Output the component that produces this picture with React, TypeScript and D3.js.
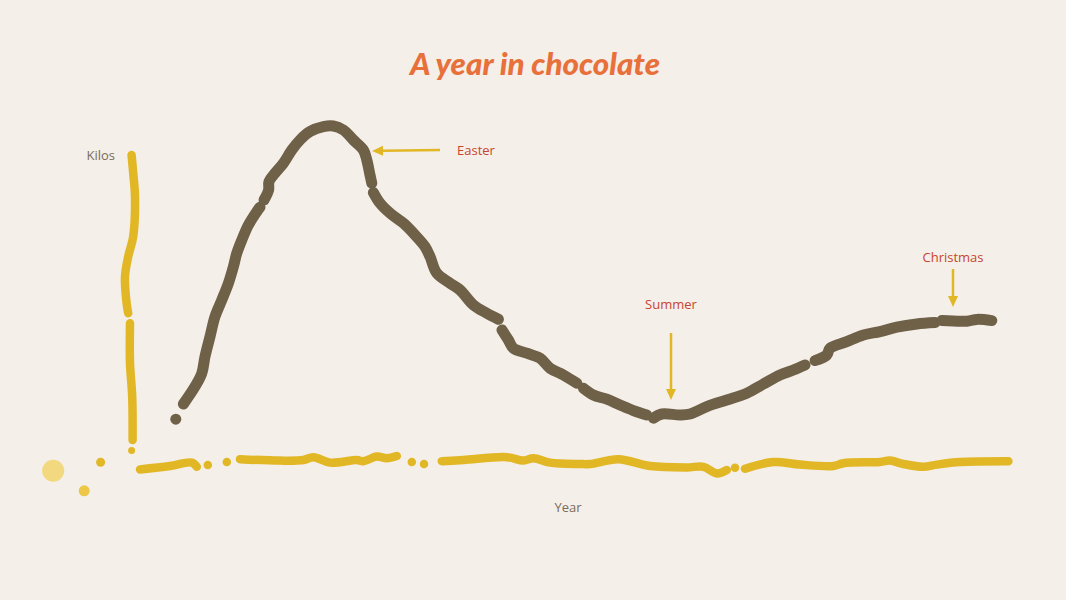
import React, { useEffect } from "react";
import * as d3 from "d3";

type P = [number, number];

// x: position along the year (arbitrary units), y: kilos (arbitrary units)
const chocolateSegments: P[][] = [
  [[17.9, 22.9]],
  [[21.7, 30.5], [27.5, 39.2], [30.9, 45.9], [32.5, 54.2], [35, 64.2], [37.5, 74.2], [40.9, 82.5], [44.2, 90.9], [46.7, 99.2], [48.4, 105.9], [50.9, 112.5], [54.2, 120], [58.4, 126.7], [60, 128.9]],
  [[62, 132.5], [64.3, 137.5], [64.5, 141.7], [67.5, 145.9], [71.7, 150.9], [75.9, 157.5], [80, 162.5], [85, 166.7], [91.7, 169.2], [96.7, 169.5], [101.7, 167.5], [106.7, 162.5], [111.7, 157.5], [113.4, 152.5], [115, 145], [115.9, 140.9]],
  [[116.7, 136.2], [120, 130.9], [125, 125.9], [131.7, 120.9], [136.7, 115.9], [142.5, 109.2], [145, 104.2], [148.4, 95.9], [155, 90.9], [160, 87.5], [166.7, 80], [173.4, 75.9], [179.2, 72.9]],
  [[181, 67.5], [184.2, 62.5], [186.7, 58.4], [193.4, 55.9], [200, 53.4], [205, 48.4], [211.7, 45], [218.4, 40.9]],
  [[221.7, 38.4], [226.7, 35], [233.4, 32.9], [240, 30], [246.7, 27.2], [253.4, 25]],
  [[256.7, 23.4], [260.9, 25.5], [270, 25], [275, 25.5], [283.4, 29.2], [293.4, 32.5], [303.4, 35.9], [311.7, 40.5], [320, 45], [326.7, 47.5], [332.5, 50]],
  [[337.5, 52.2], [343.4, 55], [345, 58.4], [353.4, 61.7], [361.7, 65], [370, 66.7], [378.4, 68.9], [388.4, 70.5], [397.5, 71.2]],
  [[400.9, 72.2], [413.4, 71.9], [418.4, 72.8], [425.9, 72.2]],
];

const yAxisSegments: P[][] = [
  [[-4.2, 155], [-3.4, 145.9], [-2.5, 134.2], [-3.4, 114.2], [-5.9, 104.2], [-7.5, 94.2], [-6.7, 80.9], [-5.9, 75.9]],
  [[-5, 70.9], [-5, 50.9], [-3.9, 34.2], [-3.7, 12.5]],
  [[-4.2, 7.2]],
];

const xAxisSegments: P[][] = [
  [[0, -2.2], [15, -0.5], [25.9, 1.2], [28.4, -0.9]],
  [[33.9, 0]],
  [[43.4, 1.5]],
  [[50, 2.9], [70, 2.2], [81.7, 2.5], [86.7, 3.9], [95, 1.2], [108.4, 2.5], [111.7, 1.9], [118.4, 4.2], [123.4, 3.4], [128.4, 4.5]],
  [[135.9, 1.5]],
  [[142, 0.5]],
  [[150.9, 1.9], [161.7, 2.5], [183.4, 3.9], [191.7, 2.2], [196.7, 3.4], [205, 1.2], [220, 0.5], [225, 0.5], [239.2, 2.9], [255, -0.5], [273.4, -1.2], [281.7, -0.9], [288.4, -4.2], [293.4, -2.5]],
  [[297.5, -1.4]],
  [[302.5, -1.9], [316.7, 1.5], [330, 0.2], [346.7, -0.5], [351.7, 0.9], [370, 1.5], [375, 2.2], [381.7, 0.5], [391.7, -0.9], [398.4, 0.2], [410, 1.5], [434.2, 1.9]],
];

const drops: { x: number; y: number; r: number; c: string }[] = [
  { x: -43.4, y: -2.9, r: 11, c: "#f2d97f" },
  { x: -27.9, y: -12.9, r: 5.5, c: "#ecc748" },
  { x: -19.7, y: 1.4, r: 4.5, c: "#e2b728" },
];

const annotations = [
  { label: "Easter", lx: 158.5, ly: 155.2, from: [150, 157.5] as P, to: [116, 157] as P, anchor: "start" },
  { label: "Summer", lx: 265.5, ly: 78, from: [265.5, 66] as P, to: [265.5, 32.5] as P, anchor: "middle" },
  { label: "Christmas", lx: 406.5, ly: 101.5, from: [406.5, 98] as P, to: [406.5, 79] as P, anchor: "middle" },
];

const W = 1066;
const H = 600;
const BG = "#f4efe8";
const BROWN = "#6f6048";
const YELLOW = "#e2b726";
const RED = "#c8452d";
const GREY = "#7b6c5a";

const x = d3.scaleLinear().domain([0, 440]).range([140, 1020]);
const y = d3.scaleLinear().domain([0, 170]).range([465, 125]);

const line = d3
  .line<P>()
  .x((d) => x(d[0]))
  .y((d) => y(d[1]))
  .curve(d3.curveCatmullRom.alpha(0.5));

function Seg({ pts, color, w }: { pts: P[]; color: string; w: number }) {
  if (pts.length === 1) {
    return <circle cx={x(pts[0][0])} cy={y(pts[0][1])} r={w / 2} fill={color} />;
  }
  return (
    <path
      d={line(pts) || ""}
      fill="none"
      stroke={color}
      strokeWidth={w}
      strokeLinecap="round"
      strokeLinejoin="round"
    />
  );
}

export default function App() {
  useEffect(() => {
    document.body.style.margin = "0";
    document.body.style.background = BG;
  }, []);
  const font = "'Open Sans', 'Noto Sans', sans-serif";
  return (
    <svg width={W} height={H} style={{ display: "block", background: BG }}>
      <rect width={W} height={H} fill={BG} />
      <text
        x={535}
        y={75}
        textAnchor="middle"
        fill="#e8703a"
        fontFamily="Lato, sans-serif"
        fontStyle="italic"
        fontWeight={900}
        fontSize={31}
        textLength={250}
        lengthAdjust="spacingAndGlyphs"
      >
        A year in chocolate
      </text>

      {yAxisSegments.map((s, i) => (
        <Seg key={"ya" + i} pts={s} color={YELLOW} w={i === 2 ? 7 : 8.5} />
      ))}
      {xAxisSegments.map((s, i) => (
        <Seg key={"xa" + i} pts={s} color={YELLOW} w={8.5} />
      ))}
      {drops.map((d, i) => (
        <circle key={"d" + i} cx={x(d.x)} cy={y(d.y)} r={d.r} fill={d.c} />
      ))}

      {chocolateSegments.map((s, i) => (
        <Seg key={"c" + i} pts={s} color={BROWN} w={11} />
      ))}

      <text x={115} y={160} textAnchor="end" fill={GREY} fontFamily={font} fontSize={13}>
        Kilos
      </text>
      <text x={568} y={512} textAnchor="middle" fill={GREY} fontFamily={font} fontSize={13}>
        Year
      </text>

      {annotations.map((a, i) => {
        const x1 = x(a.from[0]);
        const y1 = y(a.from[1]);
        const x2 = x(a.to[0]);
        const y2 = y(a.to[1]);
        const ang = Math.atan2(y2 - y1, x2 - x1);
        const hl = 11;
        const hw = 5;
        const bx = x2 - hl * Math.cos(ang);
        const by = y2 - hl * Math.sin(ang);
        const px = -Math.sin(ang) * hw;
        const py = Math.cos(ang) * hw;
        return (
          <g key={"a" + i}>
            <line x1={x1} y1={y1} x2={bx} y2={by} stroke={YELLOW} strokeWidth={2.5} />
            <path
              d={`M${x2},${y2}L${bx + px},${by + py}L${bx - px},${by - py}Z`}
              fill={YELLOW}
            />
            <text
              x={x(a.lx)}
              y={y(a.ly)}
              textAnchor={a.anchor}
              fill={RED}
              fontFamily={font}
              fontSize={13}
            >
              {a.label}
            </text>
          </g>
        );
      })}
    </svg>
  );
}
